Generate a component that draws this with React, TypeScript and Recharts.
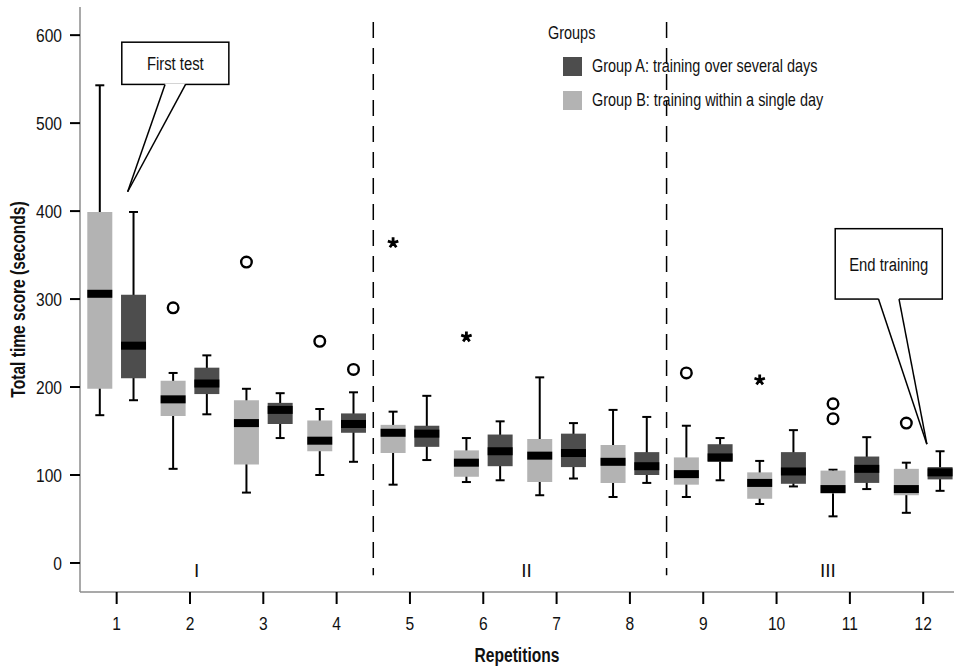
import {
  ComposedChart,
  ErrorBar,
  Legend,
  ReferenceArea,
  ReferenceLine,
  Scatter,
  XAxis,
  YAxis,
} from 'recharts'

const font = '"Liberation Sans", Arial, sans-serif'
const squeeze = 0.78
const light = '#b3b3b3'
const dark = '#4d4d4d'
const ink = '#111111'
const boxWidth = 25

const repetitions = [1, 2, 3, 4, 5, 6, 7, 8, 9, 10, 11, 12]
const yTicks = [0, 100, 200, 300, 400, 500, 600]

// Group A: training over several days (dark boxes, right of each tick)
const groupAMin = [185, 169, 142, 115, 117, 94, 96, 91, 94, 87, 84, 82]
const groupAQ1 = [210, 192, 158, 148, 132, 110, 109, 100, 115, 90, 91, 95]
const groupAMedian = [247, 204, 174, 158, 147, 127, 125, 110, 120, 104, 107, 103]
const groupAQ3 = [305, 222, 182, 170, 156, 146, 147, 126, 135, 126, 121, 109]
const groupAMax = [399, 236, 193, 194, 190, 161, 159, 166, 142, 151, 143, 127]

// Group B: training within a single day (light boxes, left of each tick)
const groupBMin = [168, 107, 80, 100, 89, 92, 77, 75, 75, 67, 53, 57]
const groupBQ1 = [198, 167, 112, 127, 125, 98, 92, 91, 89, 73, 79, 77]
const groupBMedian = [306, 186, 159, 139, 148, 114, 122, 115, 101, 91, 84, 84]
const groupBQ3 = [399, 207, 185, 162, 157, 128, 141, 134, 120, 103, 105, 107]
const groupBMax = [543, 216, 198, 175, 172, 142, 211, 174, 156, 116, 106, 114]

const circleOutliers = [
  { rep: 2, group: 'B', value: 290 },
  { rep: 3, group: 'B', value: 342 },
  { rep: 4, group: 'B', value: 252 },
  { rep: 4, group: 'A', value: 220 },
  { rep: 9, group: 'B', value: 216 },
  { rep: 11, group: 'B', value: 181 },
  { rep: 11, group: 'B', value: 164 },
  { rep: 12, group: 'B', value: 159 },
]

const starOutliers = [
  { rep: 5, group: 'B', value: 364 },
  { rep: 6, group: 'B', value: 257 },
  { rep: 10, group: 'B', value: 208 },
]

const phaseBreaks = [4.5, 8.5]
const phaseLabels = [
  { x: 2.09, y: -9, label: 'I' },
  { x: 6.59, y: -9, label: 'II' },
  { x: 10.7, y: -9, label: 'III' },
]

const callouts = [
  { text: 'First test', x1: 1.07, x2: 2.53, y1: 544, y2: 592, base: [1.66, 1.94], tip: [1.15, 422] },
  { text: 'End training', x1: 10.8, x2: 12.26, y1: 300, y2: 380, base: [11.39, 11.67], tip: [12.05, 135] },
]

const legendItems = [
  { label: 'Group A: training over several days', color: dark },
  { label: 'Group B: training within a single day', color: light },
]

const groupOffset: Record<string, number> = { A: 0.23, B: -0.23 }

function buildBoxes(offset: number, min: number[], q1: number[], median: number[], q3: number[], max: number[]) {
  return repetitions.map((rep, i) => ({
    x: rep + offset,
    y: median[i],
    box: [median[i] - q1[i], q3[i] - median[i]],
    whisker: [median[i] - min[i], max[i] - median[i]],
  }))
}

const groupABoxes = buildBoxes(groupOffset.A, groupAMin, groupAQ1, groupAMedian, groupAQ3, groupAMax)
const groupBBoxes = buildBoxes(groupOffset.B, groupBMin, groupBQ1, groupBMedian, groupBQ3, groupBMax)
const circlePoints = circleOutliers.map((o) => ({ x: o.rep + groupOffset[o.group], y: o.value }))
const starPoints = starOutliers.map((o) => ({ x: o.rep + groupOffset[o.group], y: o.value }))

function MedianBar(props: any) {
  const { cx, cy } = props
  return <rect x={cx - boxWidth / 2} y={cy - 4} width={boxWidth} height={8} fill="#000" />
}

function CircleMark(props: any) {
  const { cx, cy } = props
  return <circle cx={cx} cy={cy} r={5.3} fill="#fff" stroke="#000" strokeWidth={2.4} />
}

function StarMark(props: any) {
  const { cx, cy } = props
  const arms = [0, 1, 2, 3, 4].map((k) => {
    const a = ((-90 + 72 * k) * Math.PI) / 180
    return `M${cx},${cy}L${cx + 5.5 * Math.cos(a)},${cy + 5.5 * Math.sin(a)}`
  })
  return <path d={arms.join('')} stroke="#000" strokeWidth={2.8} fill="none" />
}

function PhaseLabel(props: any) {
  const { cx, cy, payload } = props
  return (
    <text x={cx} y={cy} textAnchor="middle" dominantBaseline="central" fontFamily={font} fontSize={19} fill={ink}>
      {payload.label}
    </text>
  )
}

function XTick(props: any) {
  const { x, y, payload } = props
  return (
    <text
      transform={`translate(${x},${y}) scale(0.82,1)`}
      textAnchor="middle"
      dy="0.71em"
      fontFamily={font}
      fontSize={19}
      fill={ink}
    >
      {payload.value}
    </text>
  )
}

function YTick(props: any) {
  const { x, y, payload } = props
  return (
    <text
      transform={`translate(${x},${y}) scale(0.82,1)`}
      textAnchor="end"
      dy="0.355em"
      fontFamily={font}
      fontSize={19}
      fill={ink}
    >
      {payload.value}
    </text>
  )
}

function XTitle(props: any) {
  const { x, y, width, height } = props.viewBox
  return (
    <text
      transform={`translate(${x + width / 2},${y + height + 16}) scale(${squeeze},1)`}
      textAnchor="middle"
      dy="0.71em"
      fontFamily={font}
      fontSize={20}
      fontWeight="bold"
      fill={ink}
    >
      Repetitions
    </text>
  )
}

function YTitle(props: any) {
  const { x, y, height } = props.viewBox
  return (
    <text
      transform={`translate(${x + 8},${y + height / 2}) rotate(-90) scale(${squeeze},1)`}
      textAnchor="middle"
      dy="0.355em"
      fontFamily={font}
      fontSize={20}
      fontWeight="bold"
      fill={ink}
    >
      Total time score (seconds)
    </text>
  )
}

function calloutShape(note: (typeof callouts)[number]) {
  return (props: any) => {
    const { x, y, width, height } = props
    const sx = width / (note.x2 - note.x1)
    const sy = height / (note.y2 - note.y1)
    const px = (v: number) => x + (v - note.x1) * sx
    const py = (v: number) => y + (note.y2 - v) * sy
    const bottom = y + height
    const b1 = px(note.base[0])
    const b2 = px(note.base[1])
    const tx = px(note.tip[0])
    const ty = py(note.tip[1])
    return (
      <g>
        <rect x={x} y={y} width={width} height={height} fill="#fff" stroke="#000" strokeWidth={1.5} />
        <polygon points={`${b1},${bottom - 1} ${tx},${ty} ${b2},${bottom - 1}`} fill="#fff" />
        <line x1={b1} y1={bottom} x2={tx} y2={ty} stroke="#000" strokeWidth={1.5} />
        <line x1={b2} y1={bottom} x2={tx} y2={ty} stroke="#000" strokeWidth={1.5} />
        <text
          transform={`translate(${x + width / 2},${y + height / 2}) scale(${squeeze},1)`}
          textAnchor="middle"
          dy="0.355em"
          fontFamily={font}
          fontSize={19}
          fill={ink}
        >
          {note.text}
        </text>
      </g>
    )
  }
}

function GroupsLegend() {
  const condensed = {
    display: 'inline-block',
    transform: `scaleX(${squeeze - 0.02})`,
    transformOrigin: 'left center',
  }
  return (
    <div style={{ fontFamily: font, fontSize: 19, color: ink, lineHeight: '22px', whiteSpace: 'nowrap' }}>
      <div style={{ height: 27, paddingLeft: 2 }}>
        <span style={condensed}>Groups</span>
      </div>
      {legendItems.map((item) => (
        <div key={item.label} style={{ display: 'flex', alignItems: 'center', height: 34, paddingLeft: 17 }}>
          <span style={{ width: 19, height: 19, background: item.color, marginRight: 10, display: 'inline-block' }} />
          <span style={condensed}>{item.label}</span>
        </div>
      ))}
    </div>
  )
}

export default function App() {
  return (
    <div style={{ position: 'absolute', left: 0, top: 0, width: 954, height: 668, background: '#fff' }}>
      <ComposedChart width={954} height={668} margin={{ top: 7, right: 0, bottom: 36, left: 10 }}>
        <XAxis
          type="number"
          dataKey="x"
          domain={[0.5, 12.42]}
          ticks={repetitions}
          allowDataOverflow
          axisLine={{ stroke: '#8c8c8c', strokeWidth: 1.5 }}
          tickLine={{ stroke: '#000', strokeWidth: 2 }}
          tickSize={12}
          tickMargin={13}
          tick={XTick}
          height={40}
          label={{ content: XTitle }}
        />
        <YAxis
          type="number"
          dataKey="y"
          domain={[-33, 632]}
          ticks={yTicks}
          allowDataOverflow
          width={70}
          axisLine={{ stroke: '#8c8c8c', strokeWidth: 1.5 }}
          tickLine={{ stroke: '#000', strokeWidth: 2 }}
          tickSize={10}
          tickMargin={8}
          tick={YTick}
          label={{ content: YTitle }}
        />
        {phaseBreaks.map((b) => (
          <ReferenceLine
            key={b}
            segment={[
              { x: b, y: 615 },
              { x: b, y: -14 },
            ]}
            stroke="#000"
            strokeWidth={1.5}
            strokeDasharray="16 10"
          />
        ))}
        <Scatter data={groupBBoxes} shape={MedianBar} isAnimationActive={false}>
          <ErrorBar dataKey="whisker" direction="y" width={4.5} stroke="#000" strokeWidth={2} isAnimationActive={false} />
          <ErrorBar dataKey="box" direction="y" width={0} stroke={light} strokeWidth={boxWidth} isAnimationActive={false} />
        </Scatter>
        <Scatter data={groupABoxes} shape={MedianBar} isAnimationActive={false}>
          <ErrorBar dataKey="whisker" direction="y" width={4.5} stroke="#000" strokeWidth={2} isAnimationActive={false} />
          <ErrorBar dataKey="box" direction="y" width={0} stroke={dark} strokeWidth={boxWidth} isAnimationActive={false} />
        </Scatter>
        <Scatter data={circlePoints} shape={CircleMark} isAnimationActive={false} />
        <Scatter data={starPoints} shape={StarMark} isAnimationActive={false} />
        <Scatter data={phaseLabels} shape={PhaseLabel} isAnimationActive={false} />
        {callouts.map((note) => (
          <ReferenceArea
            key={note.text}
            x1={note.x1}
            x2={note.x2}
            y1={note.y1}
            y2={note.y2}
            shape={calloutShape(note)}
          />
        ))}
        <Legend
          layout="vertical"
          align="center"
          verticalAlign="middle"
          wrapperStyle={{ left: 546, top: 22, width: 400 }}
          content={GroupsLegend}
        />
      </ComposedChart>
    </div>
  )
}
